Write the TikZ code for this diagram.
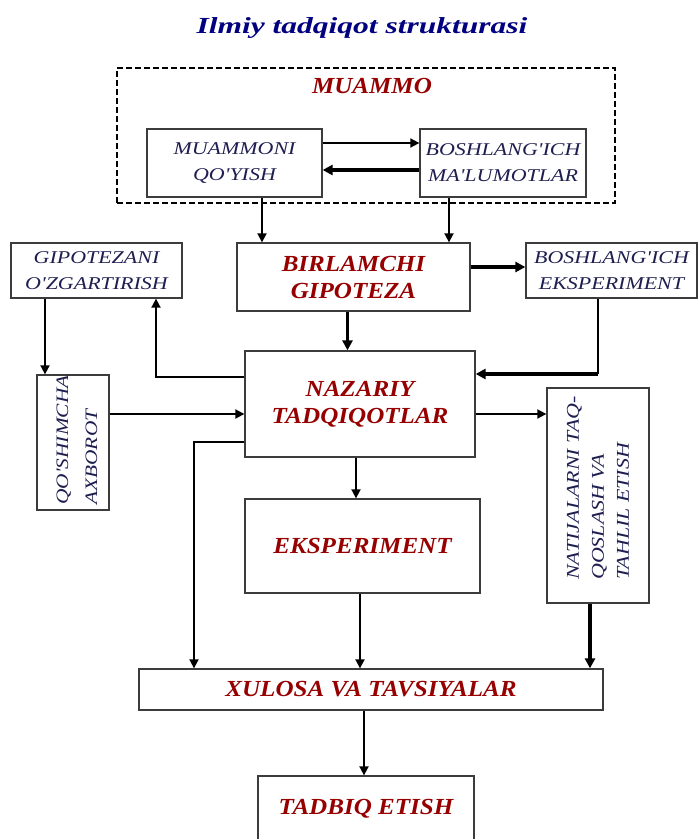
\documentclass[tikz,border=0pt]{standalone}
\usepackage{fontspec}
\setmainfont{Liberation Serif}
\newfontfamily\navyfam{Liberation Serif}[FakeStretch=1.22]
\newfontfamily\redfam{Liberation Serif}[FakeStretch=1.09]
\newfontfamily\titlefam{Liberation Serif}[FakeStretch=1.37]
\usetikzlibrary{arrows.meta}
\definecolor{navytxt}{RGB}{30,30,80}
\definecolor{redtxt}{RGB}{150,0,0}
\definecolor{titleblue}{RGB}{0,0,128}
\definecolor{boxline}{RGB}{60,60,60}
\begin{document}
\begin{tikzpicture}[x=1pt,y=-1pt,
  box/.style={draw=boxline, line width=1.3pt, inner sep=0pt, align=center},
  redtext/.style={text=redtxt, font={\redfam\bfseries\itshape\fontsize{23}{27}\selectfont}, align=center},
  navytext/.style={text=navytxt, font={\navyfam\itshape\fontsize{18}{26}\selectfont}, align=center},
  conn/.style={line width=1.8pt, -{Triangle[length=9pt,width=9pt]}},
  heavy/.style={line width=3.2pt, -{Triangle[length=10pt,width=10pt]}},
  plain/.style={line width=1.8pt}]
\fill[white] (0,0) rectangle (698,839);
\useasboundingbox (0,0) rectangle (698,839);

% title
\node[text=titleblue, font={\titlefam\bfseries\itshape\fontsize{23}{27}\selectfont}] (title) at (362,28) {Ilmiy tadqiqot strukturasi};

% problem block
\node[draw=black, line width=1.8pt, dash pattern=on 6pt off 3pt, minimum width=498pt, minimum height=135pt, inner sep=0pt] (muammo) at (366,135.5) {};
\node[redtext] (muammoT) at (372,86) {MUAMMO};
\node[box, navytext, minimum width=175pt, minimum height=68pt] (muammoni) at (234.5,163) {MUAMMONI\\QO'YISH};
\node[box, navytext, minimum width=166pt, minimum height=68pt] (boshmal) at (503,163) {BOSHLANG'ICH\\MA'LUMOTLAR};

% hypothesis row
\node[box, redtext, minimum width=233pt, minimum height=68pt] (birlamchi) at (353.5,277) {BIRLAMCHI\\GIPOTEZA};
\node[box, navytext, minimum width=171pt, minimum height=55pt] (gipoz) at (96.5,270.5) {GIPOTEZANI\\O'ZGARTIRISH};
\node[box, navytext, minimum width=171pt, minimum height=55pt] (boshexp) at (611.5,270.5) {BOSHLANG'ICH\\EKSPERIMENT};

% research row
\node[box, redtext, minimum width=230pt, minimum height=106pt] (nazariy) at (360,404) {NAZARIY\\TADQIQOTLAR};
\node[box, minimum width=72pt, minimum height=135pt] (qosh) at (73,442.5) {};
\node[navytext, rotate=90, align=left, font={\navyfam\itshape\fontsize{17.5}{29}\selectfont}] (qoshT) at (77,440) {QO'SHIMCHA\\AXBOROT};
\node[box, minimum width=102pt, minimum height=215pt] (natij) at (598,495.5) {};
\node[navytext, rotate=90, align=left, font={\navyfam\itshape\fontsize{18}{25}\selectfont}] (natijT) at (598,488) {NATIJALARNI TAQ-\\QOSLASH VA\\TAHLIL ETISH};
\node[box, redtext, minimum width=235pt, minimum height=94pt] (eksp) at (362.5,546) {EKSPERIMENT};

% results
\node[box, redtext, minimum width=464pt, minimum height=41pt] (xulosa) at (371,689.5) {XULOSA VA TAVSIYALAR};
\node[box, redtext, minimum width=216pt, minimum height=66pt] (tadbiq) at (366,809) {TADBIQ ETISH};

% connector anchors
\coordinate (a1) at ([yshift=20pt]muammoni.east);
\coordinate (a2) at ([yshift=-7pt]boshmal.west);
\coordinate (a3) at ([xshift=27.5pt]muammoni.south);
\coordinate (a4) at ([xshift=-54pt]boshmal.south);
\coordinate (a5) at ([yshift=10pt]birlamchi.east);
\coordinate (a6) at ([xshift=-6pt]birlamchi.south);
\coordinate (a7) at ([xshift=-13.5pt]boshexp.south);
\coordinate (a7e) at ([yshift=30pt]nazariy.east);
\coordinate (a8) at ([yshift=27pt]nazariy.west);
\coordinate (a8e) at ([xshift=59.5pt]gipoz.south);
\coordinate (a9) at ([xshift=-51.5pt]gipoz.south);
\coordinate (a10) at ([yshift=28.5pt]qosh.east);
\coordinate (a11) at ([yshift=-10pt]nazariy.east);
\coordinate (a12) at ([xshift=-4pt]nazariy.south);
\coordinate (a13) at ([yshift=-38pt]nazariy.west);
\coordinate (a13e) at ([xshift=-177pt]xulosa.north);
\coordinate (a14) at ([xshift=-2.5pt]eksp.south);
\coordinate (a15) at ([xshift=-8pt]natij.south);
\coordinate (a16) at ([xshift=-7pt]xulosa.south);

% connectors
\draw[conn] (a1) -- (a1 -| boshmal.west);
\draw[heavy] (a2) -- (a2 -| muammoni.east);
\draw[conn] (a3) -- (a3 |- birlamchi.north);
\draw[conn] (a4) -- (a4 |- birlamchi.north);
\draw[heavy] (a5) -- (a5 -| boshexp.west);
\draw[heavy] (a6) -- (a6 |- nazariy.north);
\draw[plain] (a7) -- (a7 |- a7e);
\draw[heavy] (a7 |- a7e) -- (a7e);
\draw[conn] (a8) -| (a8e);
\draw[conn] (a9) -- (a9 |- qosh.north);
\draw[conn] (a10) -- (a10 -| nazariy.west);
\draw[conn] (a11) -- (a11 -| natij.west);
\draw[conn] (a12) -- (a12 |- eksp.north);
\draw[conn] (a13) -| (a13e);
\draw[conn] (a14) -- (a14 |- xulosa.north);
\draw[heavy] (a15) -- (a15 |- xulosa.north);
\draw[conn] (a16) -- (a16 |- tadbiq.north);
\end{tikzpicture}
\end{document}
